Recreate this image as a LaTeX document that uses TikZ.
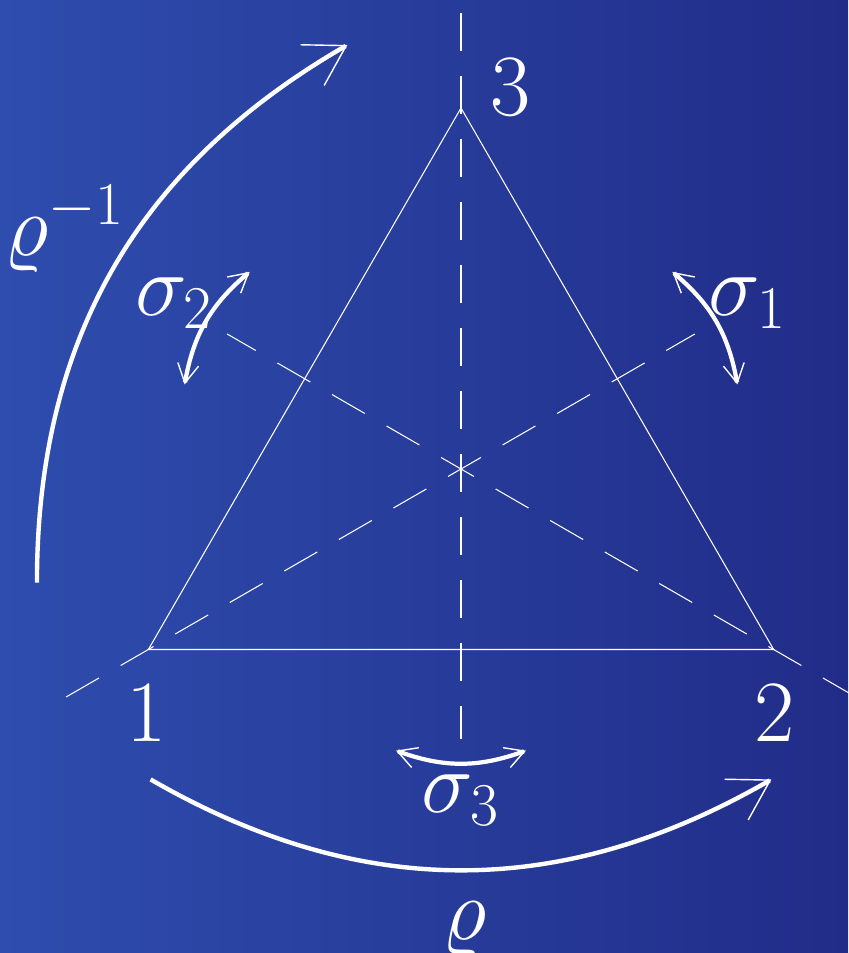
\documentclass[tikz,border=0pt]{standalone}
\usepackage{amsmath}
\usepackage{amssymb}
\usepackage{xcolor}
\usetikzlibrary{arrows.meta}
\definecolor{bgleft}{RGB}{46,77,174}
\definecolor{bgright}{RGB}{33,44,136}

\begin{document}
\begin{tikzpicture}[every node/.style={text=white, inner sep=0pt, font=\fontsize{23.5}{28}\selectfont},
    edge/.style={white, line width=0.3pt},
    mirror/.style={white, line width=0.3pt, dash pattern=on 0.38cm off 0.25cm},
    turn/.style={white, line width=1.25pt, -{Straight Barb[length=0.39cm, width=0.47cm, line width=0.4pt]}},
    flip/.style={white, line width=1.2pt, {Straight Barb[length=0.19cm, width=0.21cm, line width=0.4pt]}-{Straight Barb[length=0.19cm, width=0.21cm, line width=0.4pt]}}]
	\fill[left color=bgleft, right color=bgright] (-4.61,-4.84) rectangle (3.87,4.69);
	\useasboundingbox (-4.61,-4.84) rectangle (3.87,4.69);

	\coordinate (v1) at (210:3.61);
	\coordinate (v2) at (330:3.61);
	\coordinate (v3) at (90:3.61);
	\coordinate (m1a) at (210:4.56);
	\coordinate (m1b) at (30:2.70);
	\coordinate (m2a) at (330:4.56);
	\coordinate (m2b) at (150:2.70);
	\coordinate (m3a) at (90:4.56);
	\coordinate (m3b) at (270:2.70);

	\draw[mirror] (m1a) -- (m1b);
	\draw[mirror] (m2a) -- (m2b);
	\draw[mirror] (m3a) -- (m3b);
	\draw[edge] (v1) -- (v2) -- (v3) -- cycle;

	\node (n1) at (-3.14,-2.44) {$1$};
	\node (n2) at (3.14,-2.44) {$2$};
	\node (n3) at (0.50,3.82) {$3$};

	\coordinate (s1a) at (17:2.89);
	\coordinate (s1b) at (43:2.89);
	\coordinate (s2a) at (137:2.89);
	\coordinate (s2b) at (163:2.89);
	\coordinate (s3a) at (257:2.89);
	\coordinate (s3b) at (283:2.89);
	\draw[flip] (s1a) to[bend right=20] (s1b);
	\draw[flip] (s2a) to[bend right=20] (s2b);
	\draw[flip] (s3a) to[bend right=20] (s3b);
	\node (sig1) at (30:3.31) {$\sigma_1$};
	\node (sig2) at (150:3.31) {$\sigma_2$};
	\node (sig3) at (270:3.31) {$\sigma_3$};

	\coordinate (ra) at (225:4.39);
	\coordinate (rb) at (315:4.39);
	\coordinate (qa) at (195:4.39);
	\coordinate (qb) at (105:4.39);
	\draw[turn] (ra) to[bend right=30] (rb);
	\draw[turn] (qa) to[bend left=30] (qb);
	\node (rho) at (0.04,-4.60) {$\varrho$};
	\node (rhoinv) at (-3.96,2.40) {$\varrho^{-1}$};
\end{tikzpicture}
\end{document}
